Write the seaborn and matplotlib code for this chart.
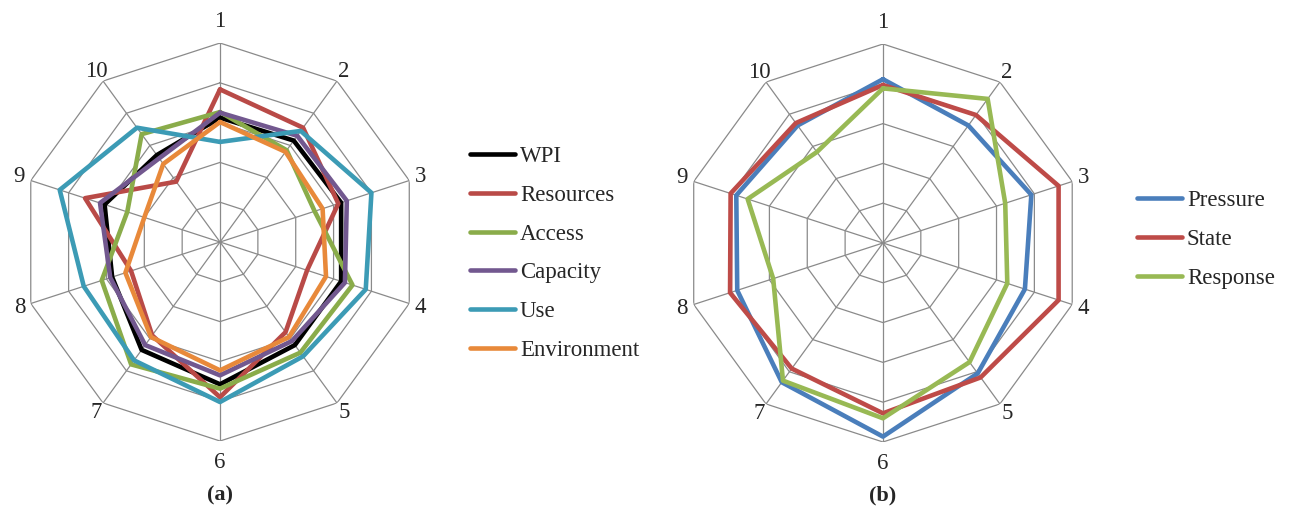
import numpy as np
import pandas as pd
import matplotlib
matplotlib.use("Agg")
import matplotlib.pyplot as plt
import seaborn as sns
from matplotlib.lines import Line2D

spokes = ["1", "2", "3", "4", "5", "6", "7", "8", "9", "10"]

# panel (a) - WPI and its components
wpi = [62.5, 63, 64, 64, 64, 71.5, 67, 57, 61, 54]
resources = [76.7, 71, 62.5, 46, 56, 78, 58, 47, 71.3, 37.5]
access = [65.3, 57, 50, 70, 68.7, 73.7, 76, 62.5, 49, 67]
capacity = [65, 66, 67, 66, 61.5, 67, 64, 58, 63.4, 52]
use = [50.3, 69, 80, 77, 71, 80.4, 73.5, 72, 84.7, 71]
environment = [60.3, 56, 54.2, 56, 59, 64.5, 59, 50, 40, 48.5]

# panel (b) - pressure / state / response
pressure = [82.3, 73, 78.4, 75, 81, 97.3, 86.5, 77, 77.5, 73]
state = [79.4, 79.5, 92.8, 92.8, 83.5, 85.6, 78, 80.8, 80.5, 74.5]
response = [77.7, 89.5, 64.6, 65.7, 74, 88.1, 85.5, 58, 71.5, 56.5]

names_a = ["WPI", "Resources", "Access", "Capacity", "Use", "Environment"]
names_b = ["Pressure", "State", "Response"]
colors_a = ["#000000", "#b94a47", "#8aac4a", "#72588f", "#3c9bb5", "#e8893a"]
colors_b = ["#4a7ebb", "#be4b48", "#98b954"]
gridc = "#8a8a8a"

sns.set_style("white")
plt.rcParams["font.family"] = ["Liberation Serif", "DejaVu Serif"]


def long_form(names, values):
    rows = []
    n = len(spokes)
    for name, vals in zip(names, values):
        for i, v in enumerate(list(vals) + [vals[0]]):
            rows.append({"theta": 2 * np.pi * i / n, "value": v, "series": name})
    return pd.DataFrame(rows)


def radar(ax, df, names, colors):
    ax.set_theta_offset(np.pi / 2)
    ax.set_theta_direction(-1)
    n = len(spokes)
    ang = np.linspace(0, 2 * np.pi, n + 1)
    for lvl in [20, 40, 60, 80, 100]:
        ax.plot(ang, [lvl] * (n + 1), color=gridc, lw=0.9, zorder=1)
    for a in ang[:-1]:
        ax.plot([a, a], [0, 100], color=gridc, lw=0.9, zorder=1)
    sns.lineplot(data=df, x="theta", y="value", hue="series", hue_order=names,
                 palette=colors, estimator=None, sort=False, lw=3.3,
                 legend=False, ax=ax, zorder=3)
    ax.set_ylim(0, 100)
    ax.grid(False)
    ax.spines["polar"].set_visible(False)
    ax.set_xticks([])
    ax.set_yticks([])
    ax.set_xlabel("")
    ax.set_ylabel("")
    ax.patch.set_alpha(0)
    for i, lab in enumerate(spokes):
        r = 111 if i in (0, 5) else 106
        ax.text(2 * np.pi * i / n, r, lab, ha="center", va="center", fontsize=16.5)


fig = plt.figure(figsize=(12.89, 5.14), dpi=100)
ax1 = fig.add_axes([0.01629, 0.1420, 0.3088, 0.7743], projection="polar")
ax2 = fig.add_axes([0.5306, 0.1401, 0.3088, 0.7743], projection="polar")

df_a = long_form(names_a, [wpi, resources, access, capacity, use, environment])
df_b = long_form(names_b, [pressure, state, response])
radar(ax1, df_a, names_a, colors_a)
radar(ax2, df_b, names_b, colors_b)

for names, colors, anchor in [(names_a, colors_a, (0.3646, 0.5068)),
                              (names_b, colors_b, (0.882, 0.534))]:
    handles = [Line2D([], [], color=c, lw=3.3) for c in colors]
    fig.legend(handles, names, loc="center left", bbox_to_anchor=anchor,
               frameon=False, handlelength=1.96, handletextpad=0.22,
               labelspacing=0.78, borderpad=0, borderaxespad=0, fontsize=16.5)

fig.text(220 / 1289, 1 - 495 / 514, "(a)", ha="center", va="center",
         fontsize=16, fontweight="bold")
fig.text(883 / 1289, 1 - 495 / 514, "(b)", ha="center", va="center",
         fontsize=16, fontweight="bold")

fig.savefig("out.png", dpi=100)
